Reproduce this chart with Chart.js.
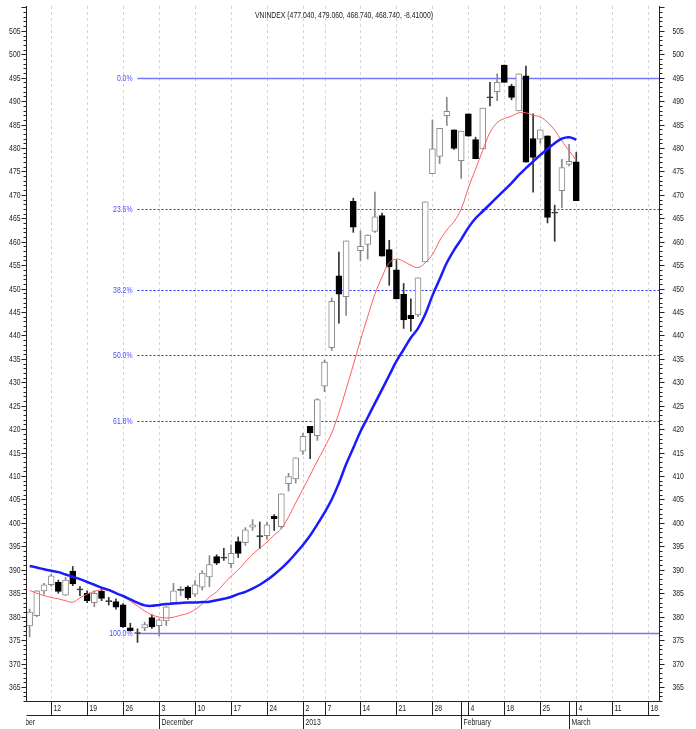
<!DOCTYPE html>
<html>
<head>
<meta charset="utf-8">
<script src="https://cdn.jsdelivr.net/npm/chart.js@4.4.0/dist/chart.umd.min.js"></script>
<style>
  html, body { margin: 0; padding: 0; background: #fff; }
  #wrap { width: 696px; height: 729px; }
</style>
</head>
<body>
<div id="wrap"><canvas id="chart" width="696" height="729"></canvas></div>
<script>
// Trading days on the x axis (Nov 1-6 only used to place the "November" label)
const dates = [
  '2012-11-01','2012-11-02','2012-11-05','2012-11-06','2012-11-07','2012-11-08','2012-11-09',
  '2012-11-12','2012-11-13','2012-11-14','2012-11-15','2012-11-16',
  '2012-11-19','2012-11-20','2012-11-21','2012-11-22','2012-11-23',
  '2012-11-26','2012-11-27','2012-11-28','2012-11-29','2012-11-30',
  '2012-12-03','2012-12-04','2012-12-05','2012-12-06','2012-12-07',
  '2012-12-10','2012-12-11','2012-12-12','2012-12-13','2012-12-14',
  '2012-12-17','2012-12-18','2012-12-19','2012-12-20','2012-12-21',
  '2012-12-24','2012-12-25','2012-12-26','2012-12-27','2012-12-28',
  '2013-01-02','2013-01-03','2013-01-04',
  '2013-01-07','2013-01-08','2013-01-09','2013-01-10','2013-01-11',
  '2013-01-14','2013-01-15','2013-01-16','2013-01-17','2013-01-18',
  '2013-01-21','2013-01-22','2013-01-23','2013-01-24','2013-01-25',
  '2013-01-28','2013-01-29','2013-01-30','2013-01-31','2013-02-01',
  '2013-02-04','2013-02-05','2013-02-06','2013-02-07','2013-02-08',
  '2013-02-18','2013-02-19','2013-02-20','2013-02-21','2013-02-22',
  '2013-02-25','2013-02-26','2013-02-27','2013-02-28','2013-03-01',
  '2013-03-04','2013-03-05','2013-03-06','2013-03-07','2013-03-08',
  '2013-03-11','2013-03-12','2013-03-13','2013-03-14','2013-03-15',
  '2013-03-18','2013-03-19'
];
const firstDate = '2012-11-07';
const lastDate = '2013-03-19';

// OHLC, one entry per trading day from 2012-11-07 to 2013-03-04
const opens  = [378.0,380.2,385.5,386.8,387.3,384.6,389.7,385.9,385.0,383.0,385.4,383.4,383.2,382.5,377.6,376.6,377.6,379.8,378.1,379.1,
                383.0,385.6,386.3,384.8,386.3,388.5,392.8,392.7,391.3,396.0,395.8,399.1,397.3,397.3,401.4,399.2,408.4,409.4,415.3,420.6,
                418.6,429.2,437.4,452.7,448.3,468.6,458.1,459.4,462.2,465.6,458.3,454.0,448.8,444.3,444.4,455.7,474.5,478.2,486.9,483.9,
                477.3,487.3,481.8,479.8,490.9,492.0,497.7,493.2,487.9,495.4,482.0,481.9,482.6,466.3,470.9,476.5,477.04];
const highs  = [381.6,385.6,387.1,389.1,387.8,388.4,390.7,386.4,385.5,385.5,385.9,384.1,383.8,382.8,378.6,377.4,378.8,380.4,379.5,382.2,
                387.1,386.4,386.6,387.7,389.8,393.0,393.2,394.6,395.3,397.0,399.0,400.7,400.2,400.2,401.8,406.2,410.6,413.9,419.1,420.6,
                426.5,434.8,448.0,457.8,460.2,469.3,462.3,461.5,470.6,466.1,460.3,456.1,451.1,447.8,452.3,468.5,486.0,484.2,490.8,483.9,
                483.6,487.3,482.3,488.5,494.0,495.8,497.7,493.6,495.8,497.5,487.3,483.9,482.6,467.8,477.6,480.8,479.06];
const lows   = [375.7,380.0,384.8,386.5,385.0,384.5,386.6,384.5,383.0,382.1,383.4,382.5,381.6,377.7,376.9,374.5,377.0,377.5,375.9,378.1,
                382.7,384.5,383.7,384.3,385.7,386.4,391.1,392.0,390.4,392.6,395.2,398.4,394.5,396.5,398.4,398.8,406.8,408.5,414.6,413.7,
                417.6,428.0,436.8,442.6,444.3,462.0,455.9,456.3,462.0,456.9,450.7,447.8,441.5,440.9,444.0,455.7,474.5,476.7,484.8,479.7,
                473.5,482.5,477.7,479.8,489.0,490.1,494.0,490.3,487.9,477.0,470.6,481.0,464.0,460.1,467.2,476.2,468.74];
const closes = [381.0,385.5,386.8,388.7,385.4,387.8,387.0,385.7,383.4,385.0,383.9,383.2,382.0,377.8,377.0,376.4,378.3,377.8,379.3,382.1,
                385.5,385.8,384.0,386.8,389.3,391.1,391.4,392.5,393.5,393.5,398.5,399.6,397.0,399.6,400.9,406.2,409.9,413.9,418.5,419.2,
                426.3,434.3,447.3,448.8,460.2,463.1,459.0,461.4,465.3,456.9,454.6,447.8,443.3,443.6,452.3,468.5,479.8,484.2,487.8,479.9,
                483.6,482.5,477.7,488.5,490.7,494.0,494.0,490.8,495.8,477.0,478.0,483.9,465.2,466.1,475.8,477.15,468.74];

// moving averages
const maFast = [385.6,385.0,384.5,384.1,383.8,383.4,383.1,384.0,384.8,385.4,385.7,385.6,385.1,384.3,383.3,382.3,381.2,380.4,379.9,379.7,
                379.9,380.3,380.7,381.5,382.7,384.2,385.3,387.0,388.6,390.0,391.7,393.3,394.6,395.9,397.4,398.8,401.3,404.3,407.2,410.2,
                413.2,416.1,419.2,423.5,428.5,433.7,439.0,444.0,448.8,452.5,455.5,456.3,455.8,455.0,454.5,455.5,457.3,460.2,462.5,464.3,
                467.0,471.5,475.5,479.5,483.3,485.4,486.3,486.8,487.5,487.5,487.0,486.6,485.5,483.8,481.5,479.4,477.4];
const maSlow = [390.8,390.5,390.1,389.8,389.5,389.0,388.5,388.0,387.4,386.8,386.2,385.7,385.0,384.4,383.7,383.0,382.4,382.3,382.5,382.7,
                382.8,382.9,383.0,383.0,383.1,383.2,383.5,383.8,384.2,384.8,385.3,386.0,386.8,387.8,389.0,390.3,391.8,393.5,395.3,397.3,
                399.7,402.2,405.0,408.5,412.5,416.0,419.5,422.5,425.5,428.5,431.5,434.5,437.0,439.5,441.5,444.5,448.5,452.0,455.5,458.2,
                460.5,463.0,465.0,466.5,468.0,469.5,471.0,472.5,474.2,475.7,477.1,478.5,479.8,481.0,482.0,482.3,481.8];

// Fibonacci retracement
const fibHigh = 495.0;
const fibLow = 376.5;
const fibStartDate = '2012-11-28';
const fibRatios = [0, 0.236, 0.382, 0.5, 0.618, 1];
const fibLabels = ['0.0%', '23.6%', '38.2%', '50.0%', '61.8%', '100.0%'];

// axis labels
const weekTickDates = ['2012-11-12','2012-11-19','2012-11-26','2012-12-03','2012-12-10','2012-12-17','2012-12-24',
                       '2013-01-02','2013-01-07','2013-01-14','2013-01-21','2013-01-28','2013-02-04','2013-02-18',
                       '2013-02-25','2013-03-04','2013-03-11','2013-03-18'];
const monthDates = ['2012-11-01','2012-12-03','2013-01-02','2013-02-01','2013-03-01'];
const monthLabels = ['November','December','2013','February','March'];
const yMin = 362.0, yMax = 510.3;
const titleText = 'VNINDEX (477.040, 479.060, 468.740, 468.740, -8.41000)';

// narrow-looking text: regular font squeezed horizontally
const FONT = '9px "Liberation Sans", Arial, sans-serif';
const SQUEEZE = 0.76;
function narrowText(ctx, text, x, y, align) {
  ctx.save();
  ctx.translate(x, y);
  ctx.scale(SQUEEZE, 1);
  ctx.font = FONT;
  ctx.textAlign = align;
  ctx.textBaseline = 'middle';
  ctx.fillText(text, 0, 0);
  ctx.restore();
}

const candleDates = dates.slice(dates.indexOf(firstDate), dates.indexOf(firstDate) + opens.length);
const bodies = candleDates.map((d, i) => ({ x: d, y: [opens[i], closes[i]] }));
const wicks = candleDates.map((d, i) => ({ x: d, y: [lows[i], highs[i]] }));
const isUp = candleDates.map((d, i) => closes[i] >= opens[i]);
const isDoji = candleDates.map((d, i) => Math.abs(closes[i] - opens[i]) < 0.35);

const decorPlugin = {
  id: 'decor',
  beforeDatasetsDraw(chart) {
    const { ctx, chartArea: a, scales: { x, y } } = chart;
    ctx.save();
    // dashed week grid
    ctx.strokeStyle = '#d4d4d4';
    ctx.lineWidth = 1;
    ctx.setLineDash([3, 3]);
    weekTickDates.forEach(d => {
      const px = Math.round(x.getPixelForValue(dates.indexOf(d))) + 0.5;
      ctx.beginPath(); ctx.moveTo(px, a.top); ctx.lineTo(px, a.bottom); ctx.stroke();
    });
    // fib levels
    const fx = x.getPixelForValue(dates.indexOf(fibStartDate));
    fibRatios.forEach((r, i) => {
      const v = fibHigh - (fibHigh - fibLow) * r;
      const py = Math.round(y.getPixelForValue(v)) + 0.5;
      const solid = (r === 0 || r === 1);
      ctx.setLineDash(solid ? [] : [2, 2]);
      ctx.strokeStyle = solid ? 'rgba(70,70,255,0.75)' : '#3030ff';
      ctx.lineWidth = solid ? 1.5 : 1;
      ctx.beginPath(); ctx.moveTo(fx, py); ctx.lineTo(a.right, py); ctx.stroke();
      ctx.fillStyle = '#4a4aff';
      narrowText(ctx, fibLabels[i], fx - 5, py, 'right');
    });
    ctx.restore();
  },
  afterDraw(chart) {
    const { ctx, chartArea: a, scales: { x, y } } = chart;
    ctx.save();
    ctx.strokeStyle = '#222';
    ctx.fillStyle = '#222';
    ctx.lineWidth = 1;
    const L = a.left + 0.5, R = a.right + 0.5, B = a.bottom + 0.5;
    // axis lines
    ctx.beginPath();
    ctx.moveTo(L, a.top); ctx.lineTo(L, B);
    ctx.moveTo(R, a.top); ctx.lineTo(R, B);
    ctx.moveTo(L, B); ctx.lineTo(R, B);
    ctx.moveTo(L, B + 14); ctx.lineTo(R, B + 14);
    ctx.stroke();
    // y ticks both sides
    for (let v = Math.ceil(yMin); v <= yMax; v++) {
      const py = Math.round(y.getPixelForValue(v)) + 0.5;
      const major = v % 5 === 0;
      ctx.beginPath();
      ctx.moveTo(L - (major ? 5 : 3), py); ctx.lineTo(L, py);
      ctx.moveTo(R, py); ctx.lineTo(R + (major ? 5 : 3), py);
      ctx.stroke();
      if (major && py > a.top + 12) {
        narrowText(ctx, String(v), L - 6, py, 'right');
        narrowText(ctx, String(v), R + 13, py, 'left');
      }
    }
    // week ticks
    weekTickDates.forEach(d => {
      const px = Math.round(x.getPixelForValue(dates.indexOf(d))) + 0.5;
      ctx.beginPath(); ctx.moveTo(px, B); ctx.lineTo(px, B + 14); ctx.stroke();
      narrowText(ctx, String(parseInt(d.slice(8), 10)), px + 2, B + 7, 'left');
    });
    // month row
    ctx.beginPath(); ctx.rect(a.left, B, a.right - a.left, 40); ctx.clip();
    monthDates.forEach((d, i) => {
      const px = Math.round(x.getPixelForValue(dates.indexOf(d))) + 0.5;
      ctx.beginPath(); ctx.moveTo(px, B); ctx.lineTo(px, B + 28); ctx.stroke();
      narrowText(ctx, monthLabels[i], px + 2, B + 21, 'left');
    });
    ctx.restore();
    // title
    ctx.save();
    ctx.fillStyle = '#222';
    narrowText(ctx, titleText, 255, 16, 'left');
    ctx.restore();
  }
};

new Chart(document.getElementById('chart'), {
  type: 'bar',
  data: {
    labels: dates,
    datasets: [
      {
        type: 'line',
        data: candleDates.map((d, i) => ({ x: d, y: maSlow[i] })),
        borderColor: '#1a1aff',
        borderWidth: 2.5,
        pointRadius: 0,
        tension: 0.4,
        order: 0
      },
      {
        type: 'line',
        data: candleDates.map((d, i) => ({ x: d, y: maFast[i] })),
        borderColor: '#ff5a5a',
        borderWidth: 1,
        pointRadius: 0,
        tension: 0.4,
        order: 0
      },
      {
        data: bodies,
        grouped: false,
        barThickness: 6,
        borderWidth: 1,
        borderSkipped: false,
        minBarLength: 1,
        backgroundColor: candleDates.map((d, i) => isDoji[i] ? '#333' : (isUp[i] ? '#ffffff' : '#000000')),
        borderColor: candleDates.map((d, i) => isDoji[i] ? '#333' : (isUp[i] ? '#8a8a8a' : '#000000')),
        order: 1
      },
      {
        data: wicks,
        grouped: false,
        barThickness: 1,
        borderWidth: 0,
        backgroundColor: candleDates.map((d, i) => isUp[i] ? '#8a8a8a' : '#333333'),
        order: 2
      }
    ]
  },
  options: {
    responsive: false,
    animation: false,
    layout: { padding: { left: 26, right: 37, top: 6, bottom: 28 } },
    plugins: { legend: { display: false }, tooltip: { enabled: false }, title: { display: false } },
    scales: {
      x: { type: 'category', min: firstDate, max: lastDate, offset: true, display: false },
      y: { min: yMin, max: yMax, display: false }
    }
  },
  plugins: [decorPlugin]
});
</script>
</body>
</html>
